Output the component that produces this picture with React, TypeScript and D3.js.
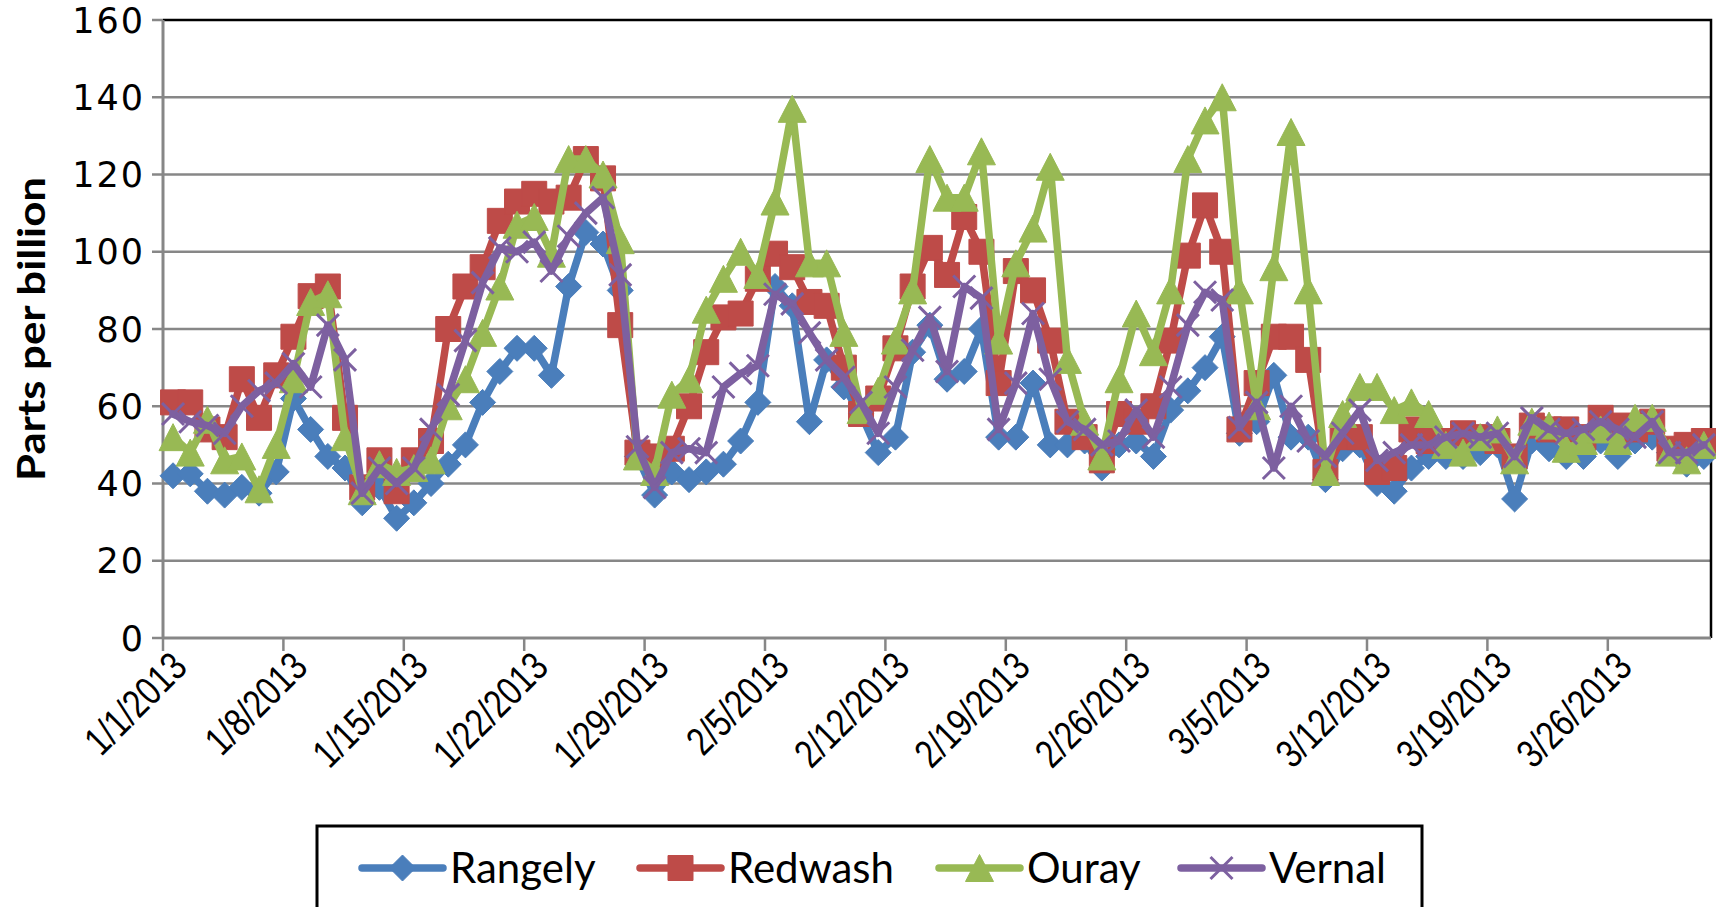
import { useEffect, useRef } from "react";
import * as d3 from "d3";

// daily values, 1/1/2013 .. 3/31/2013
const rangely = [
  42, 42.5, 38, 37, 39, 37.5, 43, 62, 54, 47,
  44, 35, 39, 31, 35, 40, 45, 50, 61, 69,
  75, 75, 68, 91, 105, 102, 90, 47, 37, 43,
  41, 43, 45, 51, 61, 91, 86, 56, 72, 65,
  58, 48, 52, 74, 81, 67, 69, 80, 52, 52,
  66, 50, 50, 51, 44, 50, 51, 47, 59, 64,
  70, 78, 53, 56, 68, 52, 52, 41, 49, 50,
  40, 38, 44, 47, 47, 47, 48, 50, 36, 51,
  49, 47, 47, 51, 47, 51, 52, 48, 45, 47,
];
const redwash = [
  61, 61, 54, 52, 67, 57, 68, 78, 88.5, 91,
  57, 39, 46, 38, 46, 51, 80, 91, 96, 108,
  113, 115, 113, 114, 124, 119, 81, 48, 47, 49,
  60, 74, 83, 84, 93, 99.5, 96, 87, 86, 70,
  58, 62, 75, 91, 101, 94, 109, 100, 66, 95,
  90, 77, 56, 52, 46, 58, 56, 60, 77, 99,
  112, 100, 54, 66, 78, 78, 72, 43, 52, 52,
  43, 44, 54, 51, 51, 53, 52, 51, 47, 55,
  54, 54, 52, 57, 55, 54, 56, 49, 50, 51,
];
const ouray = [
  52, 48, 56.5, 46, 47, 38.5, 50, 67, 87, 89,
  52, 38, 45, 43, 44, 46, 60, 67, 79, 91,
  107, 109, 99.5, 124, 124, 120, 103, 47, 43, 63,
  67, 85, 93, 100, 94, 113, 137, 97, 97, 79,
  59, 64, 77, 90, 124, 114, 114, 126, 77, 97,
  106, 122, 72, 56, 47, 67, 84, 74, 90, 124,
  134, 140, 90, 60, 96, 131, 90, 43, 58, 65,
  65, 59, 61, 58, 50, 48, 52, 54, 46, 56,
  55, 49, 51, 54, 51, 57, 57, 48, 46, 50,
];
const vernal = [
  58, 56, 55, 53, 60, 64, 66, 71, 65, 81,
  72, 37.5, 44, 40, 44, 54, 63, 77, 92, 101,
  100, 102.5, 95, 104, 110, 114, 94, 49.5, 39, 48,
  49, 48, 65, 68.5, 70.5, 89, 86.5, 79, 72, 67.5,
  61, 53, 65, 74.5, 83, 69, 91, 88, 54, 66,
  84, 67, 56, 54, 50, 51, 59, 52, 65, 81,
  89.5, 87.5, 54.5, 61, 44, 60, 51, 47, 53, 59,
  46, 48, 50, 50, 52, 53, 52, 53, 47, 57,
  54, 53, 54, 56, 54, 52, 56, 48, 48, 50,
];

const seriesNames = ["Rangely", "Redwash", "Ouray", "Vernal"];
const seriesColors = ["#4A7EBB", "#BE4B48", "#98B954", "#7D60A0"];
const seriesMarkers = ["diamond", "square", "triangle", "x"];
const seriesValues = [rangely, redwash, ouray, vernal];
const yTicks = [0, 20, 40, 60, 80, 100, 120, 140, 160];

const startDate = new Date(Date.UTC(2013, 0, 1));
const endDate = new Date(Date.UTC(2013, 3, 1));

function markerPath(kind: string) {
  if (kind === "diamond") return "M0,-13L13,0L0,13L-13,0Z";
  if (kind === "square") return "M-12.5,-12.5H12.5V12.5H-12.5Z";
  if (kind === "triangle") return "M0,-13.5L14,13.5L-14,13.5Z";
  return "M-11,-11L11,11M-11,11L11,-11";
}

export default function App() {
  const svgRef = useRef<SVGSVGElement>(null);

  useEffect(() => {
    if (!svgRef.current) return;
    const svg = d3.select(svgRef.current);
    svg.selectAll("*").remove();

    const left = 163, right = 1711, top = 20, bottom = 638;
    const days = d3.utcDay.range(startDate, endDate);
    // readings sit a little past midnight of each day
    const when = (i: number) => d3.utcHour.offset(days[i], 14);

    const x = d3.scaleUtc().domain([startDate, endDate]).range([left, right]);
    const y = d3.scaleLinear().domain([0, 160]).range([bottom, top]);

    const grid = "#878787";

    // gridlines
    svg.append("g")
      .selectAll("line")
      .data(yTicks.slice(1, -1))
      .enter()
      .append("line")
      .attr("x1", left)
      .attr("x2", right)
      .attr("y1", (d) => y(d))
      .attr("y2", (d) => y(d))
      .attr("stroke", grid)
      .attr("stroke-width", 2.5);

    // plot border (top / right)
    svg.append("path")
      .attr("d", `M${left},${top}H${right}V${bottom}`)
      .attr("fill", "none")
      .attr("stroke", "#000")
      .attr("stroke-width", 2.5);

    // y axis
    svg.append("line")
      .attr("x1", left).attr("x2", left)
      .attr("y1", top).attr("y2", bottom)
      .attr("stroke", grid).attr("stroke-width", 3);
    svg.append("g")
      .selectAll("line")
      .data(yTicks)
      .enter()
      .append("line")
      .attr("x1", left - 11)
      .attr("x2", left)
      .attr("y1", (d) => y(d))
      .attr("y2", (d) => y(d))
      .attr("stroke", grid)
      .attr("stroke-width", 2.5);
    svg.append("g")
      .selectAll("text")
      .data(yTicks)
      .enter()
      .append("text")
      .attr("x", left - 18)
      .attr("y", (d) => y(d))
      .attr("dy", "0.36em")
      .attr("text-anchor", "end")
      .attr("font-family", "DejaVu Sans")
      .attr("font-size", 35)
      .attr("letter-spacing", 2)
      .attr("fill", "#000")
      .text((d) => d);

    // x axis
    const xTicks = d3.utcDay.range(startDate, endDate, 7);
    const fmt = d3.utcFormat("%-m/%-d/%Y");
    svg.append("line")
      .attr("x1", left).attr("x2", right)
      .attr("y1", bottom).attr("y2", bottom)
      .attr("stroke", grid).attr("stroke-width", 3);
    svg.append("g")
      .selectAll("line")
      .data(xTicks)
      .enter()
      .append("line")
      .attr("x1", (d) => x(d))
      .attr("x2", (d) => x(d))
      .attr("y1", bottom)
      .attr("y2", bottom + 13)
      .attr("stroke", grid)
      .attr("stroke-width", 2.5);
    // narrow, tall labels: squeeze the glyphs along the text direction
    svg.append("g")
      .selectAll("text")
      .data(xTicks)
      .enter()
      .append("text")
      .attr("transform", (d) => `translate(${x(d) + 16},${bottom + 21}) rotate(-45) scale(0.8,1)`)
      .attr("dy", "0.36em")
      .attr("text-anchor", "end")
      .attr("font-family", "Liberation Sans")
      .attr("font-size", 40)
      .attr("fill", "#000")
      .text((d) => fmt(d));

    // y title
    svg.append("text")
      .attr("transform", `translate(31,${(top + bottom) / 2}) rotate(-90)`)
      .attr("dy", "0.36em")
      .attr("text-anchor", "middle")
      .attr("font-family", "Lato")
      .attr("font-weight", "bold")
      .attr("font-size", 38)
      .attr("textLength", 304)
      .attr("lengthAdjust", "spacingAndGlyphs")
      .text("Parts per billion");

    // series
    const line = d3.line<number>()
      .x((_, i) => x(when(i)))
      .y((d) => y(d));

    seriesValues.forEach((vals, s) => {
      const g = svg.append("g");
      g.append("path")
        .datum(vals)
        .attr("d", line)
        .attr("fill", "none")
        .attr("stroke", seriesColors[s])
        .attr("stroke-width", 7.5)
        .attr("stroke-linejoin", "round")
        .attr("stroke-linecap", "round");
      const isX = seriesMarkers[s] === "x";
      g.selectAll("path.m")
        .data(vals)
        .enter()
        .append("path")
        .attr("class", "m")
        .attr("transform", (d, i) => `translate(${x(when(i))},${y(d)})`)
        .attr("d", markerPath(seriesMarkers[s]))
        .attr("fill", isX ? "none" : seriesColors[s])
        .attr("stroke", seriesColors[s])
        .attr("stroke-width", isX ? 3 : 1);
    });

    // legend
    const legendY = 868;
    svg.append("rect")
      .attr("x", 317)
      .attr("y", 826)
      .attr("width", 1105)
      .attr("height", 120)
      .attr("fill", "#fff")
      .attr("stroke", "#000")
      .attr("stroke-width", 3);
    const legendX = [362, 640, 939, 1181];
    seriesNames.forEach((name, s) => {
      const lx = legendX[s];
      const isX = seriesMarkers[s] === "x";
      svg.append("line")
        .attr("x1", lx).attr("x2", lx + 81)
        .attr("y1", legendY).attr("y2", legendY)
        .attr("stroke", seriesColors[s])
        .attr("stroke-width", 7.5)
        .attr("stroke-linecap", "round");
      svg.append("path")
        .attr("transform", `translate(${lx + 40.5},${legendY})`)
        .attr("d", markerPath(seriesMarkers[s]))
        .attr("fill", isX ? "none" : seriesColors[s])
        .attr("stroke", seriesColors[s])
        .attr("stroke-width", isX ? 3 : 1);
      svg.append("text")
        .attr("x", lx + 88)
        .attr("y", legendY)
        .attr("dy", "0.36em")
        .attr("font-family", "Lato")
        .attr("font-size", 42)
        .attr("fill", "#000")
        .text(name);
    });
  }, []);

  return (
    <svg
      ref={svgRef}
      width={1716}
      height={907}
      style={{ position: "absolute", left: 0, top: 0, background: "#fff" }}
    />
  );
}
